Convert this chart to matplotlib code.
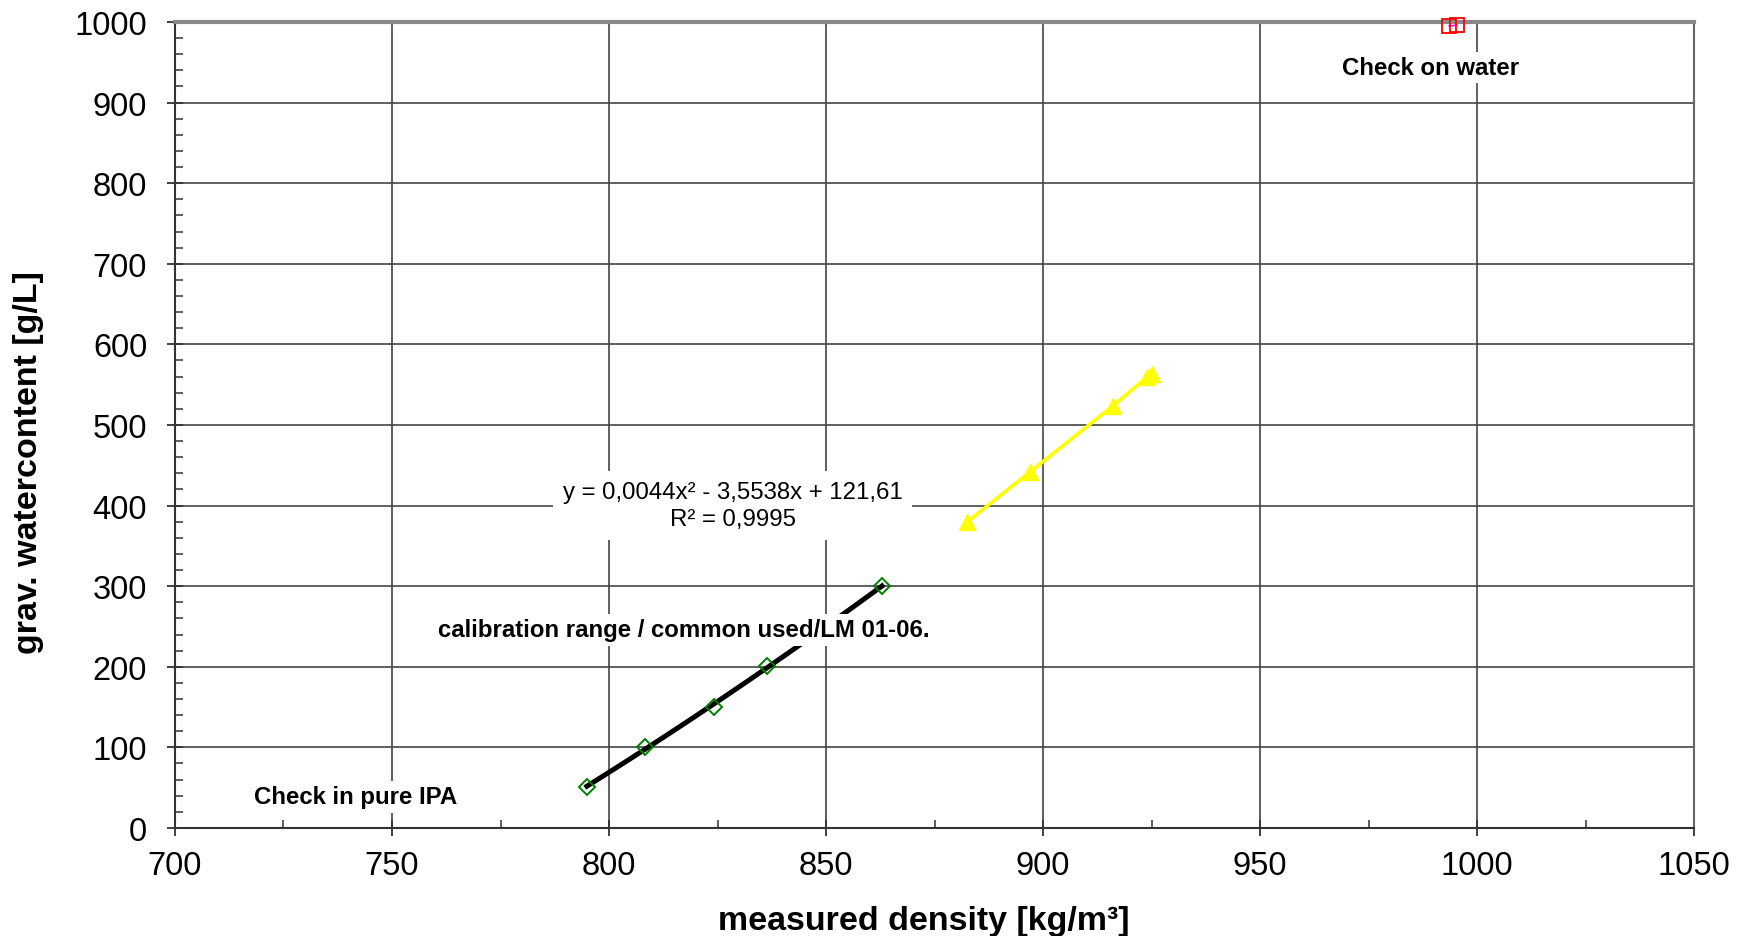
import numpy as np
import matplotlib.pyplot as plt
from matplotlib.ticker import MultipleLocator

plt.rcParams['font.family'] = ['Liberation Sans', 'DejaVu Sans']

# calibration points (green diamonds)
calib_x = [794.9, 808.3, 824.2, 836.4, 862.9]
calib_y = [50.9, 100.5, 150.0, 201.0, 300.0]
# extended range (yellow triangles)
ext_x = [882.5, 897.0, 916.1, 924.0, 925.1]
ext_y = [379.6, 441.7, 523.6, 559.6, 563.3]
# check on water (red squares)
water_x = [993.6, 995.4]
water_y = [995.0, 996.0]

fig = plt.figure(figsize=(17.43, 9.37), dpi=100)
ax = fig.add_axes([0.1004, 0.1153, 0.8715, 0.8602])

# trendline through calibration points
coef = np.polyfit(calib_x, calib_y, 2)
xx = np.linspace(min(calib_x), max(calib_x), 100)
ax.plot(xx, np.polyval(coef, xx), color='black', lw=3.6, zorder=3)
ax.plot(calib_x, calib_y, ls='none', marker='D', ms=8.5, mfc='none', mec='green', mew=1.4, zorder=4)

ax.plot(ext_x, ext_y, color='#ffff00', lw=2.6, marker='^', ms=11, mfc='#ffff00', mec='#ffff00', zorder=4)

ax.plot(water_x, water_y, color='magenta', lw=1.2, marker='s', ms=10, mfc='none', mec='red', mew=1.3,
        zorder=4, clip_on=False)

ax.set_xlim(700, 1050)
ax.set_ylim(0, 1000)
ax.xaxis.set_major_locator(MultipleLocator(50))
ax.xaxis.set_minor_locator(MultipleLocator(25))
ax.yaxis.set_major_locator(MultipleLocator(100))
ax.yaxis.set_minor_locator(MultipleLocator(20))
ax.tick_params(which='major', direction='inout', length=12, width=1.3, labelsize=23.5, color='#333333')
ax.tick_params(which='minor', direction='in', length=6, width=1.1, color='#333333')
ax.tick_params(axis='x', pad=10)
ax.tick_params(axis='y', pad=14)
ax.grid(True, which='major', color='#444444', lw=1.2)
for s in ax.spines.values():
    s.set_color('#666666')
    s.set_linewidth(1.5)
ax.spines['left'].set_color('#333333')
ax.spines['bottom'].set_color('#333333')
ax.spines['top'].set_linewidth(3)
ax.spines['top'].set_color('#888888')

ax.set_xlabel('measured density [kg/m³]', fontsize=24.5, fontweight='bold', labelpad=16)
ax.set_ylabel('grav. watercontent [g/L]', fontsize=24.5, fontweight='bold', labelpad=18)
ax.xaxis.set_label_coords(0.493, -0.095)
ax.yaxis.set_label_coords(-0.086, 0.454)

box = dict(facecolor='white', edgecolor='none', pad=3)
ax.text(828.5, 400, 'y = 0,0044x² - 3,5538x + 121,61\nR² = 0,9995', ha='center', va='center',
        fontsize=17.3, linespacing=1.3, bbox=dict(facecolor='white', edgecolor='none', pad=7), zorder=5)
ax.text(817.3, 245.7, 'calibration range / common used/LM 01-06.', ha='center', va='center',
        fontsize=17.3, fontweight='bold', bbox=box, zorder=5)
ax.text(989.2, 944, 'Check on water', ha='center', va='center', fontsize=17.3, fontweight='bold',
        bbox=box, zorder=5)
ax.text(741.7, 38.5, 'Check in pure IPA', ha='center', va='center', fontsize=17.3, fontweight='bold',
        bbox=box, zorder=5)

fig.savefig('out.png', dpi=100)
